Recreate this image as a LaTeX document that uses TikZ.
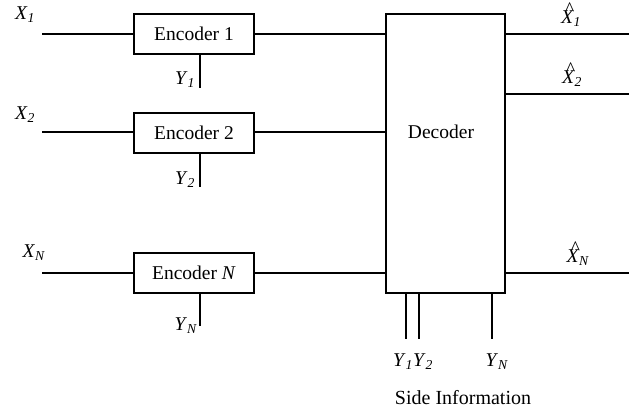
\documentclass[tikz,border=0pt]{standalone}
\usepackage{fontspec}
\setmainfont{Liberation Serif}
\usetikzlibrary{positioning}
\newcommand{\isym}[2]{\textit{#1}\textsubscript{\textit{#2}}}
\newcommand{\hsym}[2]{\ooalign{\textit{#1}\cr\hidewidth\hspace{0.25em}\raisebox{0.42em}{\char"5E}\hidewidth\cr}\textsubscript{\textit{#2}}}

\begin{document}
\begin{tikzpicture}[x=1pt,y=-1pt,line width=1.6pt,
  block/.style={draw,line width=1.6pt,minimum width=120pt,minimum height=40pt,
                inner sep=0pt,font=\fontsize{19.5}{22}\selectfont},
  lbl/.style={inner sep=0pt,font=\fontsize{19.5}{22}\selectfont}]
  \useasboundingbox (0,0) rectangle (629,412);

  %% Encoders and decoder
  \node[block] (enc1) at (194,34) {Encoder 1};
  \node[block] (enc2) at (194,133) {Encoder 2};
  \node[block] (encN) at (194,273) {Encoder \textit{N}};
  \node[block,minimum width=119pt,minimum height=279pt] (dec) at (445.5,153.5) {};
  \node[lbl] (dectxt) at (441,132) {Decoder};

  %% Sources
  \coordinate (in1) at (42,34);
  \coordinate (in2) at (42,132);
  \coordinate (inN) at (42,273);
  \node[lbl] (x1) at (25,15) {\isym{X}{1}};
  \node[lbl] (x2) at (25,115) {\isym{X}{2}};
  \node[lbl] (xN) at (34,253) {\isym{X}{N}};
  \draw (in1) -- (in1 -| enc1.west);
  \draw (in2) -- (in2 -| enc2.west);
  \draw (inN) -- (inN -| encN.west);

  %% Encoder outputs into decoder
  \draw (enc1.east |- in1) -- (in1 -| dec.west);
  \draw (enc2.east |- in2) -- (in2 -| dec.west);
  \draw (encN.east |- inN) -- (inN -| dec.west);

  %% Side information at encoders
  \coordinate (ye1) at (200,88);
  \coordinate (ye2) at (200,187);
  \coordinate (yeN) at (200,326);
  \draw (ye1 |- enc1.south) -- (ye1);
  \draw (ye2 |- enc2.south) -- (ye2);
  \draw (yeN |- encN.south) -- (yeN);
  \node[lbl] (ly1) at (185,80) {\isym{Y}{1}};
  \node[lbl] (ly2) at (185,180) {\isym{Y}{2}};
  \node[lbl] (lyN) at (186,326) {\isym{Y}{N}};

  %% Decoder outputs
  \coordinate (out1) at (629,34);
  \coordinate (out2) at (629,94);
  \coordinate (outN) at (629,273);
  \draw (out1 -| dec.east) -- (out1);
  \draw (out2 -| dec.east) -- (out2);
  \draw (outN -| dec.east) -- (outN);
  \node[lbl] (xh1) at (571,19) {\hsym{X}{1}};
  \node[lbl] (xh2) at (572,79) {\hsym{X}{2}};
  \node[lbl] (xhN) at (578,258) {\hsym{X}{N}};

  %% Side information at decoder
  \coordinate (yd1) at (406,339);
  \coordinate (yd2) at (419,339);
  \coordinate (ydN) at (492,339);
  \draw (yd1 |- dec.south) -- (yd1);
  \draw (yd2 |- dec.south) -- (yd2);
  \draw (ydN |- dec.south) -- (ydN);
  \node[lbl] (ld1) at (403,362) {\isym{Y}{1}};
  \node[lbl] (ld2) at (423,362) {\isym{Y}{2}};
  \node[lbl] (ldN) at (497,362) {\isym{Y}{N}};
  \node[lbl,font=\fontsize{20}{22}\selectfont] (side) at (463,398) {Side Information};
\end{tikzpicture}
\end{document}
